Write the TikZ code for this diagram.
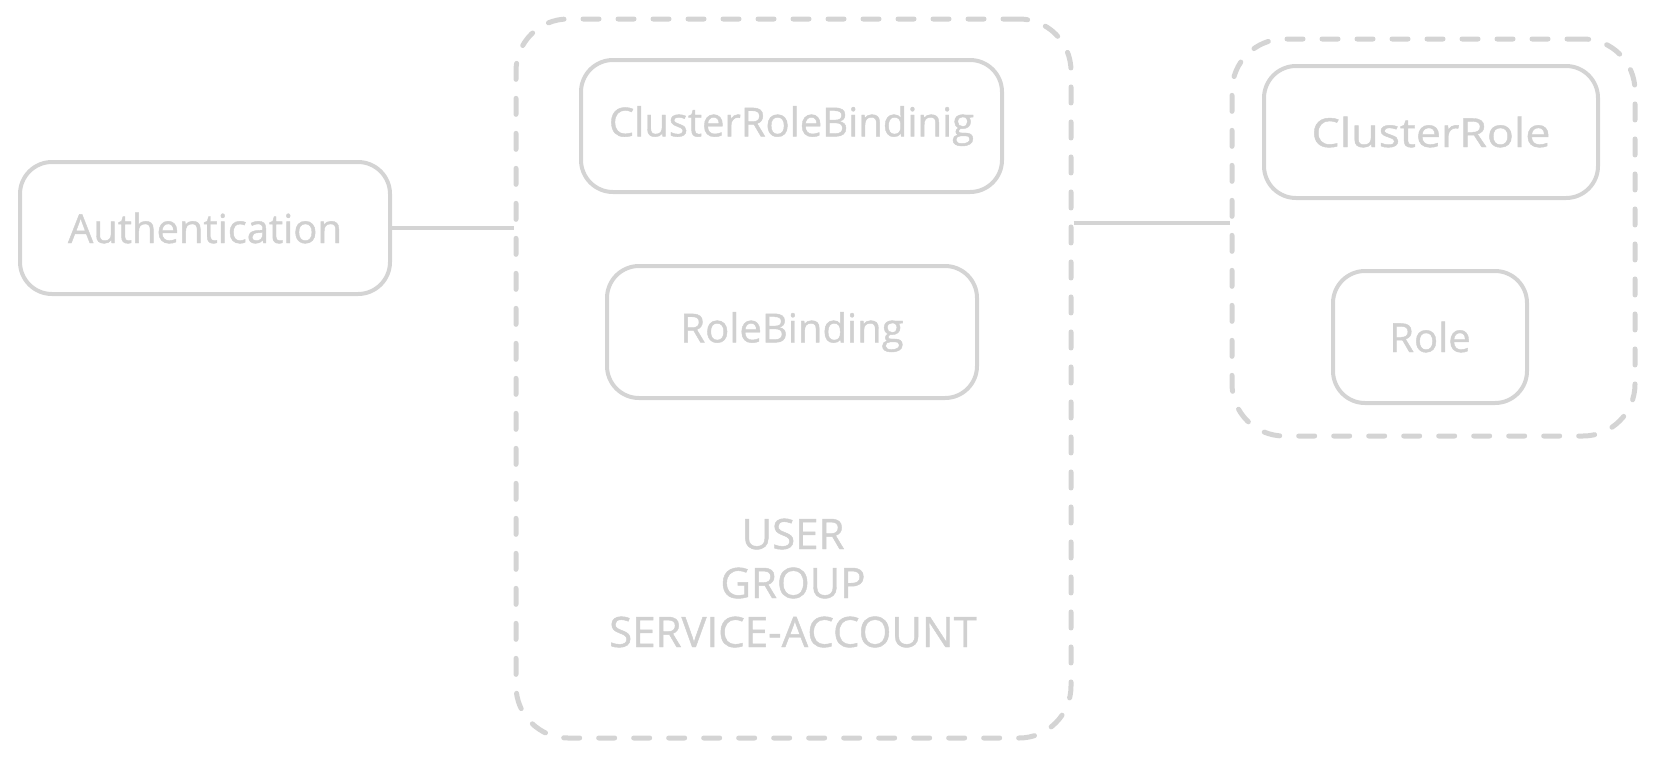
\documentclass[tikz,border=0pt]{standalone}
\usepackage{fontspec}
\setmainfont{Open Sans}
\definecolor{lg}{RGB}{212,212,212}
\definecolor{lgtext}{RGB}{208,208,208}
\begin{document}
\begin{tikzpicture}[x=1pt,y=-1pt,
  box/.style={draw=lg,line width=4pt,rounded corners=32pt,text=lgtext,
    font=\fontsize{40}{48}\selectfont\addfontfeatures{FakeBold=1},inner sep=0pt},
  group/.style={draw=lg,line width=5pt,rounded corners=52pt,dash pattern=on 16pt off 19pt,line cap=round,inner sep=0pt},
  link/.style={draw=lg,line width=4pt}]
\useasboundingbox (0,0) rectangle (1654,758);
\node[group,minimum width=555pt,minimum height=719pt] (big) at (793.5,378.5) {};
\node[group,minimum width=403pt,minimum height=397pt] (rbox) at (1433.5,237.5) {};
\node[box,minimum width=370pt,minimum height=132pt] (auth) at (205,228) {Authentication};
\node[box,minimum width=421pt,minimum height=132pt] (crb) at (791.5,126) {ClusterRoleBindinig};
\node[box,minimum width=370pt,minimum height=132pt] (rb) at (792,332) {RoleBinding};
\node[box,minimum width=334pt,minimum height=132pt] (cr) at (1431,132) {\scalebox{1.12}[1]{ClusterRole}};
\node[box,minimum width=194pt,minimum height=132pt] (role) at (1430,337) {Role};
\node[text=lgtext,font=\fontsize{42}{49}\selectfont\addfontfeatures{FakeBold=1},align=center] (subj) at (793,583) {USER\\GROUP\\SERVICE-ACCOUNT};
\draw[link] (auth.east) -- (auth.east -| big.west);
\draw[link] ([yshift=14.5pt]big.east |- rbox.west) -- ([yshift=14.5pt]rbox.west);
\end{tikzpicture}
\end{document}
